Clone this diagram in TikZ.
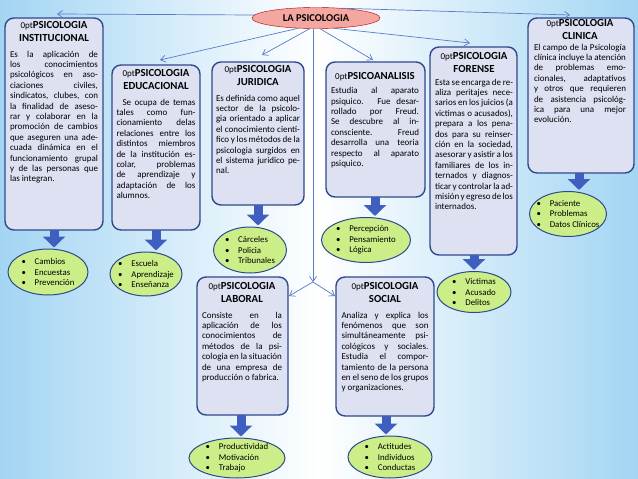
\documentclass[tikz,border=0pt]{standalone}
\usepackage{fontspec}
\setmainfont{Carlito}
\usetikzlibrary{arrows.meta,shapes.geometric}
\definecolor{bgb}{HTML}{A3D5F3}
\definecolor{boxf}{HTML}{DDE1F2}
\definecolor{boxd}{HTML}{2E4A8C}
\definecolor{ellf}{HTML}{CCEE88}
\definecolor{arrb}{HTML}{3F5FC0}
\definecolor{lnb}{HTML}{5A7BC8}
\definecolor{rootf}{HTML}{F4A6A0}
\tikzset{
  box/.style={draw=boxd,line width=1.4pt,fill=boxf,rounded corners=9pt,inner sep=0pt},
  txt/.style={anchor=north,text width=#1,align=justify,inner sep=0pt,font=\fontsize{9}{10.4}\selectfont\hyphenpenalty=10000\exhyphenpenalty=10000\tolerance=9999\emergencystretch=20pt},
  ell/.style={draw=boxd,line width=1pt,fill=ellf,ellipse,inner sep=0pt},
  blist/.style={align=left,inner sep=0pt,font=\fontsize{8.8}{10.6}\selectfont},
  big/.style={draw=arrb,line width=9pt,-{Triangle[width=22pt,length=11pt]},shorten >=1pt},
  thin/.style={draw=lnb,line width=0.7pt,-{Straight Barb[length=5pt,width=7pt]}},
}
\newcommand{\ttl}[1]{{\centering\fontsize{10.8}{13.5}\selectfont\bfseries #1\par}\vspace{5pt}}
\begin{document}
\begin{tikzpicture}[x=1pt,y=-1pt]
\useasboundingbox (0,0) rectangle (638,479);
\shade[left color=bgb,right color=bgb,middle color=white] (0,0) rectangle (638,479);
% boxes
\path[box] (5,18) rectangle (103,230); \coordinate (instb) at (54,230);
\node[txt=88pt] (inst) at (54,21) {\ttl{PSICOLOGIA\\INSTITUCIONAL}Es la aplicación de los conocimientos psicológicos en asociaciones civiles, sindicatos, clubes, con la finalidad de asesorar y colaborar en la promoción de cambios que aseguren una adecuada dinámica en el funcionamiento grupal y de las personas que las integran.};
\path[box] (112,65) rectangle (200,230); \coordinate (edub) at (156,230);
\node[txt=79pt] (edu) at (156,69) {\ttl{PSICOLOGIA\\EDUCACIONAL}\hspace*{6pt}Se ocupa de temas tales como funcionamiento delas relaciones entre los distintos miembros de la institución escolar, problemas de aprendizaje y adaptación de los alumnos.};
\path[box] (212,62) rectangle (304,205); \coordinate (jurb) at (258,205);
\node[txt=84pt] (jur) at (258,65) {\ttl{PSICOLOGIA\\JURIDICA}Es definida como aquel sector de la psicologia orientado a aplicar el conocimiento científico y los métodos de la psicologia surgidos en el sistema juridico penal.};
\path[box] (326,62) rectangle (425,197); \coordinate (psab) at (375,197);
\node[txt=88pt] (psa) at (375,72) {\ttl{PSICOANALISIS}\vspace{-1pt}Estudia al aparato psiquico. Fue desarrollado por Freud. Se descubre al inconsciente. Freud desarrolla una teoria respecto al aparato psiquico.};
\path[box] (430,47) rectangle (517,255); \coordinate (forb) at (474,255);
\node[txt=78pt] (for) at (474,52) {\ttl{PSICOLOGIA\\FORENSE}\vspace{-3pt}Esta se encarga de realiza peritajes necesarios en los juicios (a victimas o acusados), prepara a los penados para su reinserción en la sociedad, asesorar y asistir a los familiares de los internados y diagnosticar y controlar la admisión y egreso de los internados.};
\path[box] (528,18) rectangle (634,173); \coordinate (clib) at (579,173);
\node[txt=92pt] (cli) at (580,19) {\ttl{PSICOLOGIA\\CLINICA}\vspace{-5pt}El campo de la Psicología clínica incluye la atención de problemas emocionales, adaptativos y otros que requieren de asistencia psicológica para una mejor evolución.};
\path[box] (197,277) rectangle (288,415); \coordinate (labb) at (241,415);
\node[txt=80pt] (lab) at (242,282) {\ttl{PSICOLOGIA\\LABORAL}Consiste en la aplicación de los conocimientos de métodos de la psicologia en la situación de una empresa de producción o fabrica.};
\path[box] (336,277) rectangle (434,416); \coordinate (socb) at (386,416);
\node[txt=87pt] (soc) at (385,282) {\ttl{PSICOLOGIA\\SOCIAL}Analiza y explica los fenómenos que son simultáneamente psicológicos y sociales. Estudia el comportamiento de la persona en el seno de los grupos y organizaciones.};
% root
\node[draw=red!70!black,fill=rootf,ellipse,minimum width=128pt,minimum height=21pt,inner sep=0pt,font=\fontsize{10.5}{12}\selectfont\bfseries] (root) at (316,18) {LA PSICOLOGIA};
% ellipses
\node[ell,minimum width=80pt,minimum height=46pt] (e1) at (48,272) {};
\node[blist] at (e1) {•\quad Cambios\\•\quad Encuestas\\•\quad Prevención};
\node[ell,minimum width=72pt,minimum height=44pt] (e2) at (146,274) {};
\node[blist] at (e2) {•\quad Escuela\\•\quad Aprendizaje\\•\quad Enseñanza};
\node[ell,minimum width=73pt,minimum height=46pt] (e3) at (250,250) {};
\node[blist] at (e3) {•\quad Cárceles\\•\quad Policia\\•\quad Tribunales};
\node[ell,minimum width=89pt,minimum height=45pt] (e4) at (366,240) {};
\node[blist] at (e4) {•\quad Percepción\\•\quad Pensamiento\\•\quad Lógica};
\node[ell,minimum width=74pt,minimum height=41pt] (e5) at (474,292) {};
\node[blist] at (e5) {•\quad Victimas\\•\quad Acusado\\•\quad Delitos};
\node[ell,minimum width=77pt,minimum height=45pt] (e6) at (568,214) {};
\node[blist] at (e6) {•\quad Paciente\\•\quad Problemas\\•\quad Datos Clínicos};
\node[ell,minimum width=96pt,minimum height=40pt] (e7) at (237,458) {};
\node[blist] at (e7) {•\quad Productividad\\•\quad Motivación\\•\quad Trabajo};
\node[ell,minimum width=84pt,minimum height=42pt] (e8) at (390,457) {};
\node[blist] at (e8) {•\quad Actitudes\\•\quad Individuos\\•\quad Conductas};
% big arrows
\draw[big] (instb) -- (instb |- e1.north);
\draw[big] (edub) -- (edub |- e2.north);
\draw[big] (jurb) -- (jurb |- e3.north);
\draw[big] (psab) -- (psab |- e4.north);
\draw[big] (forb) -- (forb |- e5.north);
\draw[big] (clib) -- (clib |- e6.north);
\draw[big] (labb) -- (labb |- e7.north);
\draw[big] (socb) -- (socb |- e8.north);
% thin connectors
\coordinate (ti) at (57,14); \coordinate (te) at (160,60); \coordinate (tj) at (262,55);
\coordinate (tp) at (373,60); \coordinate (tf) at (470,43); \coordinate (tc) at (570,15);
\coordinate (split) at (313,282); \coordinate (tl) at (289,296); \coordinate (ts) at (335,296);
\draw[thin] (root.west) ++(3,-3) -- (ti);
\draw[thin] (root.210) -- (te);
\draw[thin] (root.240) -- (tj);
\draw[thin] (root.290) -- (tp);
\draw[thin] (root.330) -- (tf);
\draw[thin] (root.20) -- (tc);
\draw[thin] (root.south -| split) -- (split);
\draw[thin] (split) -- (tl);
\draw[thin] (split) -- (ts);
\end{tikzpicture}
\end{document}
